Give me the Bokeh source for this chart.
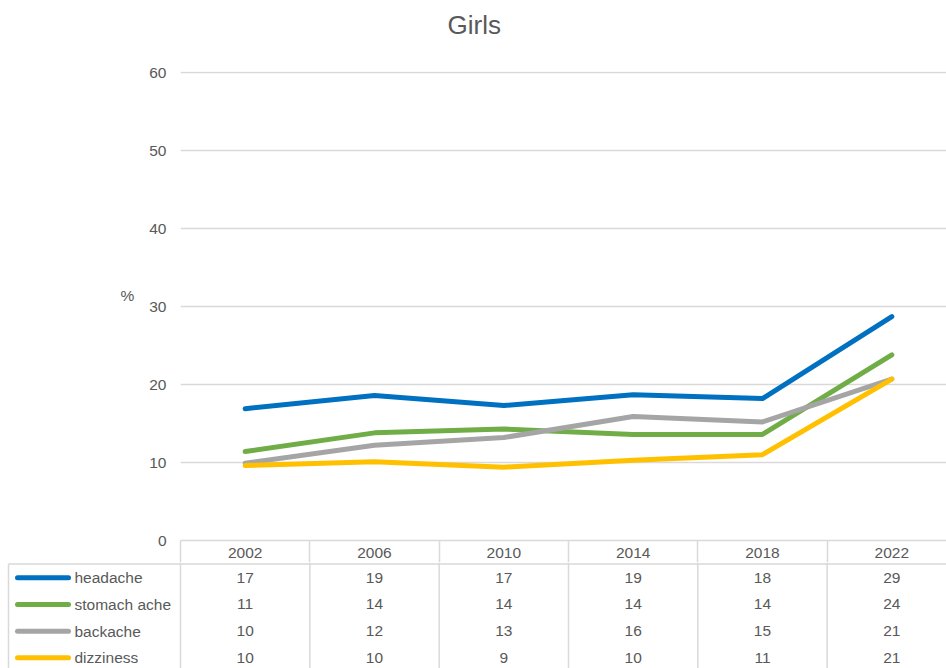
import math
from bokeh.plotting import figure
from bokeh.layouts import column
from bokeh.models import Range1d, FixedTicker, Title
from bokeh.core.properties import value
from bokeh.embed import file_html
from bokeh.resources import INLINE

# ---- data ----
years = ["2002", "2006", "2010", "2014", "2018", "2022"]
series_names = ["headache", "stomach ache", "backache", "dizziness"]
headache = [16.9, 18.6, 17.3, 18.7, 18.2, 28.7]
stomach_ache = [11.4, 13.8, 14.3, 13.6, 13.6, 23.8]
backache = [9.9, 12.2, 13.2, 15.9, 15.2, 20.7]
dizziness = [9.6, 10.1, 9.4, 10.3, 11.0, 20.7]
y_ticks = [0, 10, 20, 30, 40, 50, 60]
title_text = "Girls"
y_label = "%"

series_values = [headache, stomach_ache, backache, dizziness]
colors = ["#0070C0", "#70AD47", "#A5A5A5", "#FFC000"]

FONT = "Liberation Sans"
TXT = "#595959"
GRID = "#D9D9D9"
FS = "15.5px"

# ---- layout constants (pixels) ----
PAGE_W = 946
TOP_H = 562
BOT_H = 668 - TOP_H
FRAME_L = 180
FRAME_T = 71
AXIS_B = 22
PX_PER_CAT = 129.33
PX_PER_UNIT = 7.8

n = len(years)
frame_w = PAGE_W - FRAME_L
frame_h = TOP_H - FRAME_T - AXIS_B
x_start = -0.5
x_end = x_start + frame_w / PX_PER_CAT

# ================= chart =================
p = figure(width=PAGE_W, height=TOP_H, output_backend="svg", toolbar_location=None,
           x_range=Range1d(x_start, x_end), y_range=Range1d(0, frame_h / PX_PER_UNIT),
           min_border_left=FRAME_L, min_border_right=0, min_border_top=FRAME_T,
           min_border_bottom=AXIS_B, outline_line_color=None, frame_align=False)

p.title.text = title_text
p.title.align = "left"
p.title.offset = 267
p.title.text_font = FONT
p.title.text_font_size = "26px"
p.title.text_font_style = "normal"
p.title.text_color = TXT
p.title.standoff = 12
# spacer between the title and the plot area
p.add_layout(Title(text=" ", text_font_size="1px", standoff=23), "above")

# y axis
ticker = FixedTicker(ticks=y_ticks)
ay = p.yaxis[0]
ay.ticker = ticker
ay.axis_line_color = None
ay.major_tick_line_color = None
ay.minor_tick_line_color = None
ay.major_tick_out = 0
ay.major_tick_in = 0
ay.major_label_standoff = 14
ay.major_label_text_font = FONT
ay.major_label_text_font_size = FS
ay.major_label_text_color = TXT
ay.axis_label = y_label + "\n"
ay.axis_label_orientation = "horizontal"
ay.axis_label_standoff = 12
ay.axis_label_text_font = FONT
ay.axis_label_text_font_size = FS
ay.axis_label_text_font_style = "normal"
ay.axis_label_text_color = TXT
p.ygrid.ticker = ticker
p.ygrid.grid_line_color = GRID
p.ygrid.grid_line_width = 1.5

# x axis = header row of the data table
xs = list(range(n))
ax = p.xaxis[0]
ax.ticker = FixedTicker(ticks=xs, minor_ticks=[i - 0.5 for i in range(n + 1)])
ax.major_label_overrides = {i: yr for i, yr in zip(xs, years)}
ax.axis_line_color = GRID
ax.axis_line_width = 1.5
ax.major_tick_line_color = None
ax.major_tick_out = 0
ax.major_tick_in = 0
ax.minor_tick_line_color = GRID
ax.minor_tick_line_width = 1.5
ax.minor_tick_out = AXIS_B
ax.minor_tick_in = 0
ax.major_label_standoff = -15
ax.major_label_text_font = FONT
ax.major_label_text_font_size = FS
ax.major_label_text_color = TXT
p.xgrid.visible = False

for vals, col in zip(series_values, colors):
    p.line(xs, vals, line_color=col, line_width=5, line_cap="round", line_join="round")

# ================= data table rows =================
def px_x(px):
    return x_start + (px - FRAME_L) / PX_PER_CAT

q = figure(width=PAGE_W, height=BOT_H, output_backend="svg", toolbar_location=None,
           x_range=Range1d(px_x(0), px_x(PAGE_W)), y_range=Range1d(-BOT_H, 0),
           x_axis_type=None, y_axis_type=None,
           min_border_left=0, min_border_right=0, min_border_top=0, min_border_bottom=0,
           outline_line_color=None, frame_align=False)
q.grid.visible = False

sep_x = [i - 0.5 for i in range(n + 1)]
box_left = px_x(8)
q.segment(x0=sep_x + [box_left], y0=[0] * len(sep_x) + [-1.5],
          x1=sep_x + [box_left], y1=[-BOT_H] * (len(sep_x) + 1),
          line_color=GRID, line_width=1.5)
q.segment(x0=[box_left], y0=[-1.5], x1=[n - 0.5], y1=[-1.5],
          line_color=GRID, line_width=1.5)

ROW0, ROW_STEP = -15.3, 26.67
row_y = [ROW0 - k * ROW_STEP for k in range(len(series_names))]

# legend keys
q.segment(x0=[px_x(17)] * len(colors), y0=row_y, x1=[px_x(68)] * len(colors), y1=row_y,
          line_color=colors, line_width=5, line_cap="round")
q.text(x=[px_x(74)] * len(series_names), y=row_y, text=series_names,
       text_align="left", text_baseline="middle",
       text_font=value(FONT), text_font_size=value(FS), text_color=TXT)

# values
tx, ty, tt = [], [], []
for k, vals in enumerate(series_values):
    for i, v in enumerate(vals):
        tx.append(i)
        ty.append(row_y[k])
        tt.append(str(int(math.floor(v + 0.5))))
q.text(x=tx, y=ty, text=tt, text_align="center", text_baseline="middle",
       text_font=value(FONT), text_font_size=value(FS), text_color=TXT)

layout = column(p, q, spacing=0)
open("out.html", "w").write(file_html(layout, INLINE))
